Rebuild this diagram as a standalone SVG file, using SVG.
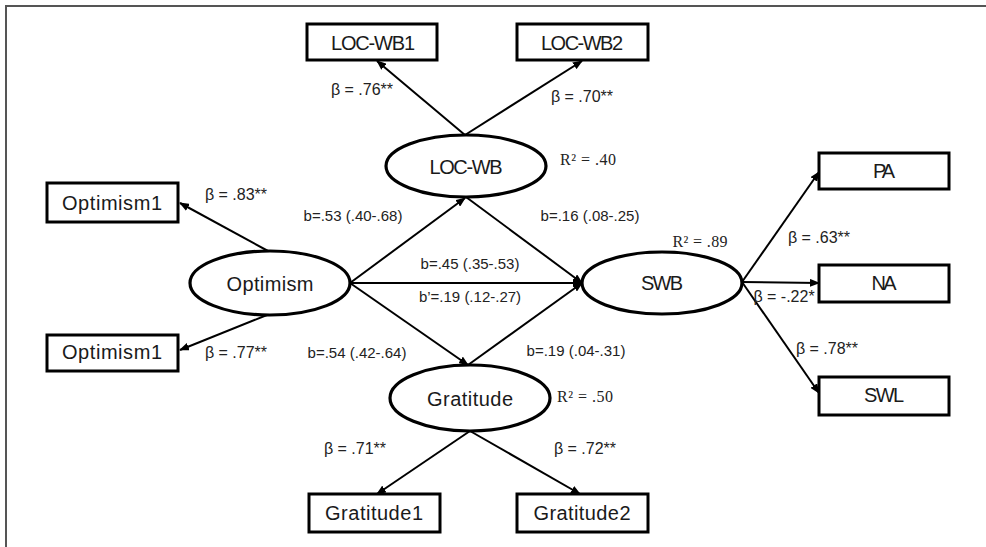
<svg xmlns="http://www.w3.org/2000/svg" width="986" height="547" viewBox="0 0 986 547">
<style>
.box{fill:#fff;stroke:#000;stroke-width:3}
.ell{fill:#fff;stroke:#000;stroke-width:3.2}
.lbl{font-family:"Liberation Sans",Arial,sans-serif;font-size:20px;fill:#1a1a1a;text-anchor:middle}
.sm{font-family:"Liberation Sans",Arial,sans-serif;font-size:15px;fill:#222;text-anchor:middle}
.bt{font-family:"Liberation Sans",Arial,sans-serif;font-size:16px;fill:#222;text-anchor:middle}
.r2{font-family:"Liberation Serif","Times New Roman",serif;font-size:16px;fill:#222;text-anchor:middle}
.con line{stroke:#000;stroke-width:2;marker-end:url(#arr)}
</style>
<defs>
<marker id="arr" markerUnits="userSpaceOnUse" markerWidth="10" markerHeight="8" refX="9" refY="4" orient="auto">
<path d="M0,0 L10,4 L0,8 z" fill="#000"/>
</marker>
</defs>
<rect width="986" height="547" fill="#fff"/>
<g id="frame" stroke="#555" stroke-width="2" fill="none">
<line x1="5" y1="6" x2="986" y2="6"/>
<line x1="6" y1="5" x2="6" y2="547"/>
</g>
<g class="con" id="connectors">
<line x1="465" y1="135" x2="377" y2="61"/>
<line x1="465" y1="135" x2="582" y2="61"/>
<line x1="268" y1="251" x2="180" y2="203"/>
<line x1="267" y1="315" x2="180" y2="350"/>
<line x1="350" y1="283" x2="465" y2="198"/>
<line x1="350" y1="283" x2="582" y2="283"/>
<line x1="350" y1="283" x2="468" y2="365"/>
<line x1="466" y1="197" x2="582" y2="283"/>
<line x1="468" y1="365" x2="582" y2="283"/>
<line x1="742" y1="282" x2="819" y2="172"/>
<line x1="742" y1="282" x2="819" y2="283"/>
<line x1="742" y1="282" x2="819" y2="393"/>
<line x1="470" y1="431" x2="377" y2="494"/>
<line x1="470" y1="431" x2="580" y2="494"/>
</g>
<g id="LOC-WB1"><rect class="box" x="307" y="24" width="130" height="36"/><text class="lbl" x="373" y="50" textLength="84">LOC-WB1</text></g>
<g id="LOC-WB2"><rect class="box" x="517" y="24" width="131" height="36"/><text class="lbl" x="582" y="50" textLength="82">LOC-WB2</text></g>
<g id="Optimism1a"><rect class="box" x="47" y="183" width="131" height="39"/><text class="lbl" x="112" y="210" textLength="100">Optimism1</text></g>
<g id="Optimism1b"><rect class="box" x="47" y="335" width="131" height="36"/><text class="lbl" x="112" y="359" textLength="100">Optimism1</text></g>
<g id="PA"><rect class="box" x="819" y="153" width="130" height="36"/><text class="lbl" x="884" y="178" textLength="22">PA</text></g>
<g id="NA"><rect class="box" x="819" y="265" width="130" height="37"/><text class="lbl" x="884" y="290" textLength="25">NA</text></g>
<g id="SWL"><rect class="box" x="819" y="377" width="130" height="38"/><text class="lbl" x="884" y="402" textLength="40">SWL</text></g>
<g id="Gratitude1"><rect class="box" x="309" y="494" width="131" height="38"/><text class="lbl" x="374" y="520" textLength="98">Gratitude1</text></g>
<g id="Gratitude2"><rect class="box" x="517" y="494" width="131" height="38"/><text class="lbl" x="582" y="520" textLength="97">Gratitude2</text></g>
<g id="LOC-WB"><ellipse class="ell" cx="466" cy="166" rx="80" ry="31"/><text class="lbl" x="466" y="174" textLength="73">LOC-WB</text></g>
<g id="Optimism"><ellipse class="ell" cx="270" cy="283" rx="80" ry="32"/><text class="lbl" x="270" y="291" textLength="87">Optimism</text></g>
<g id="SWB"><ellipse class="ell" cx="662" cy="283" rx="80" ry="31"/><text class="lbl" x="662" y="290" textLength="42">SWB</text></g>
<g id="Gratitude"><ellipse class="ell" cx="470" cy="398" rx="80" ry="33"/><text class="lbl" x="470" y="406" textLength="86">Gratitude</text></g>
<g id="labels">
<text class="bt" x="362" y="95">β = .76**</text>
<text class="bt" x="582" y="102">β = .70**</text>
<text class="r2" x="588" y="165" textLength="56">R² = .40</text>
<text class="bt" x="236" y="200">β = .83**</text>
<text class="sm" x="353" y="221">b=.53 (.40-.68)</text>
<text class="sm" x="590" y="221">b=.16 (.08-.25)</text>
<text class="sm" x="470" y="269">b=.45 (.35-.53)</text>
<text class="sm" x="470" y="302">b’=.19 (.12-.27)</text>
<text class="r2" x="700" y="247" textLength="55">R² = .89</text>
<text class="bt" x="819" y="243">β = .63**</text>
<text class="bt" x="784" y="302">β = -.22*</text>
<text class="bt" x="827" y="354">β = .78**</text>
<text class="bt" x="236" y="358">β = .77**</text>
<text class="sm" x="357" y="358">b=.54 (.42-.64)</text>
<text class="sm" x="576" y="356">b=.19 (.04-.31)</text>
<text class="r2" x="585" y="402" textLength="56">R² = .50</text>
<text class="bt" x="355" y="454">β = .71**</text>
<text class="bt" x="585" y="454">β = .72**</text>
</g>
</svg>
